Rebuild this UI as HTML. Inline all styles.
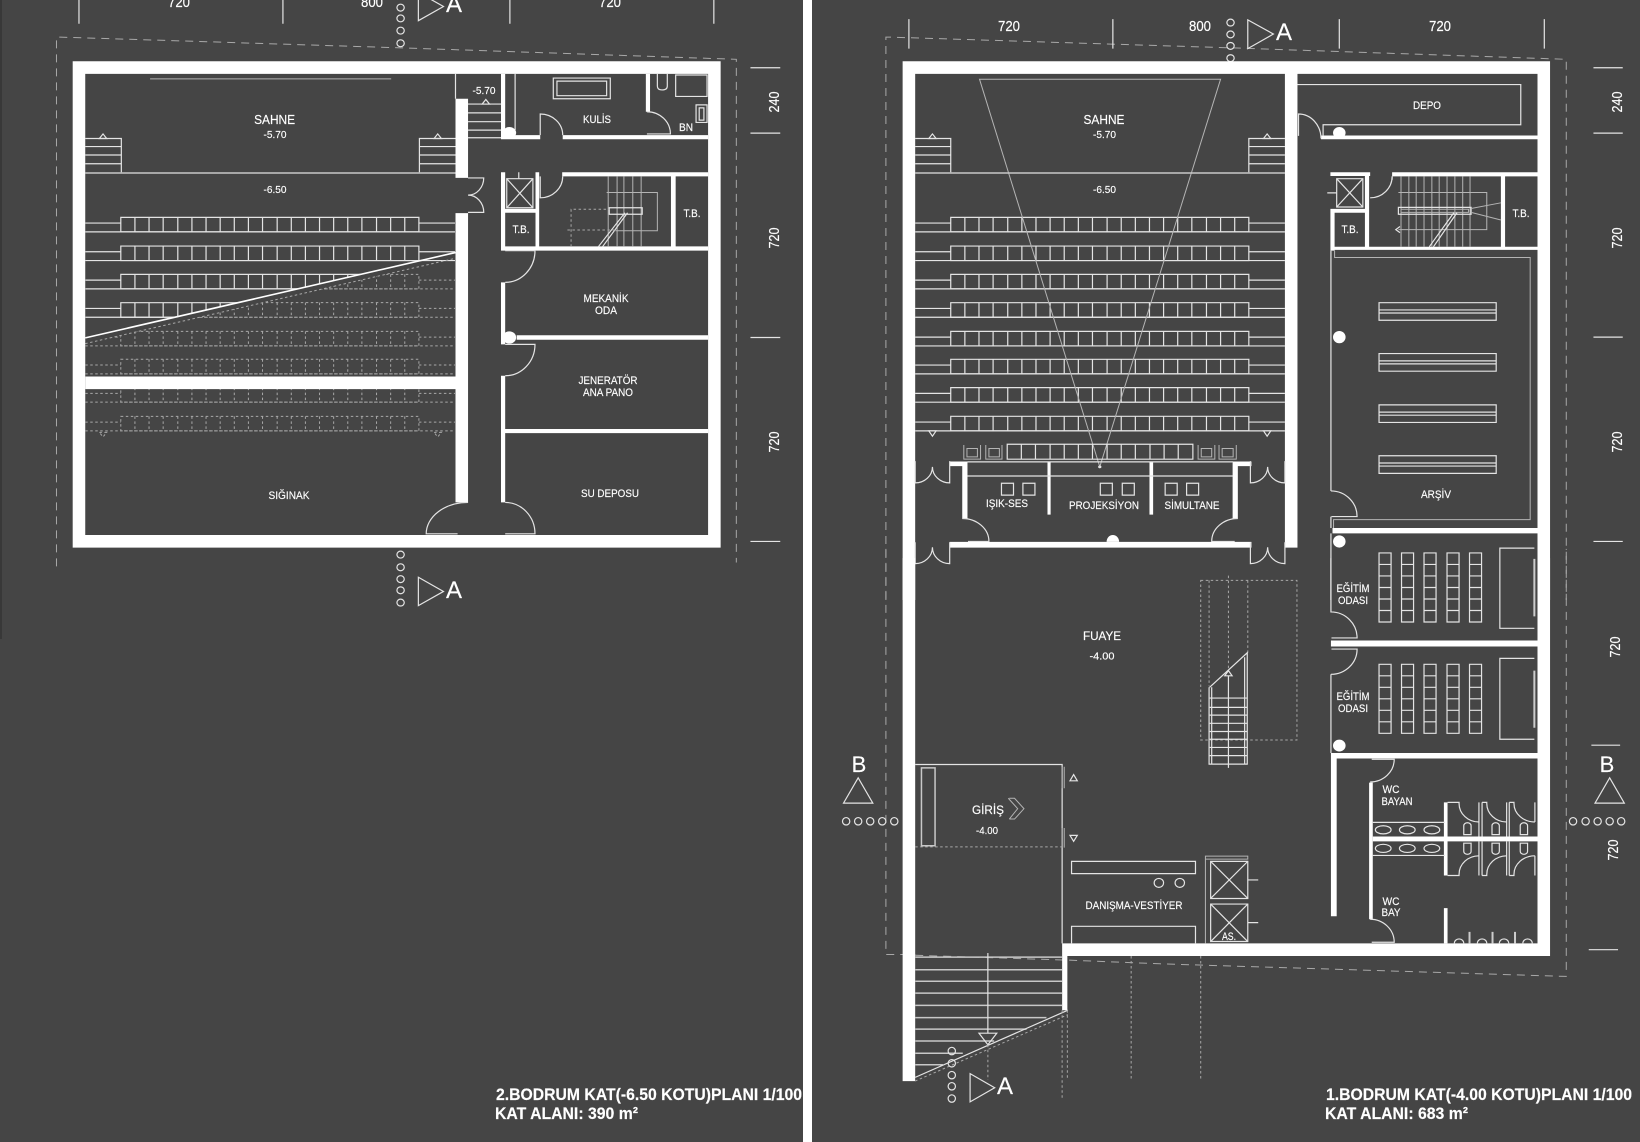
<!DOCTYPE html>
<html lang="tr">
<head>
<meta charset="utf-8">
<title>Bodrum Kat Planları</title>
<style>
html,body{margin:0;padding:0;background:#454545;width:1640px;height:1142px;overflow:hidden}
svg{display:block;position:absolute;left:0;top:0}
svg *{vector-effect:non-scaling-stroke}
.w{fill:#fff;stroke:none}
.l{fill:none;stroke:#e4e4e4;stroke-width:1.2}
.g{fill:none;stroke:#b4b4b4;stroke-width:1}
.r{fill:none;stroke:#c8c8c8;stroke-width:1.5}
.d{fill:none;stroke:#a8a8a8;stroke-width:1;stroke-dasharray:8 6}
.dt{fill:none;stroke:#a8a8a8;stroke-width:1;stroke-dasharray:2.5 2.5}
text{font-family:"Liberation Sans",sans-serif;fill:#fff;text-anchor:middle;stroke:#fff;stroke-width:.15}
.t{font-size:11px}
.s{font-size:10.5px}
.n{font-size:14.5px}
.b{font-size:16.5px;font-weight:bold;text-anchor:start}
.a{font-size:24px}
</style>
</head>
<body>
<svg width="1640" height="1142" viewBox="0 0 1640 1142" xmlns="http://www.w3.org/2000/svg">
<defs>
<g id="row">
<rect class="l" x="250" y="0" width="570" height="38"/>
<path class="l" d="M277,0V38M304,0V38M331,0V38M359,0V38M386,0V38M413,0V38M440,0V38M467,0V38M494,0V38M521,0V38M549,0V38M576,0V38M603,0V38M630,0V38M657,0V38M684,0V38M711,0V38M739,0V38M766,0V38M793,0V38"/>
<path class="l" d="M182,15H250M820,15H889M182,38H889"/>
</g>
<g id="rowd">
<rect class="dt" x="250" y="0" width="570" height="38"/>
<path class="dt" d="M277,0V38M304,0V38M331,0V38M359,0V38M386,0V38M413,0V38M440,0V38M467,0V38M494,0V38M521,0V38M549,0V38M576,0V38M603,0V38M630,0V38M657,0V38M684,0V38M711,0V38M739,0V38M766,0V38M793,0V38"/>
<path class="dt" d="M182,15H250M820,15H889M182,38H889"/>
</g>
<clipPath id="above"><polygon points="163,193 871,193 871,660 163,883"/></clipPath>
<clipPath id="below"><polygon points="163,898 871,675 871,1398 163,1398"/></clipPath>
<g id="desk">
<rect class="l" x="0" y="0" width="23" height="186"/>
<path class="l" d="M0,31H23M0,62H23M0,93H23M0,124H23M0,155H23"/>
</g>
<g id="deskrow">
<use href="#desk" x="1069"/><use href="#desk" x="1112"/><use href="#desk" x="1155"/><use href="#desk" x="1199"/><use href="#desk" x="1242"/>
</g>
<g id="shelf">
<rect class="l" x="1069" y="0" width="224" height="46"/>
<path class="l" d="M1069,19H1293M1069,27H1293"/>
</g>
</defs>

<rect width="1640" height="1142" fill="#454545"/>
<rect x="803" y="0" width="9" height="1142" fill="#fff"/>
<path d="M1,0V639" stroke="#2a2a2a" stroke-width="1" fill="none"/>

<!-- LEFT PLAN -->
<g transform="scale(.52296,.38265)">
<path class="d" d="M108,1480V97H115L766,125L1408,155V1470"/>
<path class="l" d="M151,0V62M541,0V62M975,0V62M1365,0V62"/>
<path class="l" d="M1435,177H1492M1435,348H1492M1435,882H1492M1435,1415H1492"/>
<ellipse class="l" cx="766" cy="20" rx="7" ry="9"/><ellipse class="l" cx="766" cy="48" rx="7" ry="9"/><ellipse class="l" cx="766" cy="80" rx="7" ry="9"/><ellipse class="l" cx="766" cy="113" rx="7" ry="9"/>
<polygon class="l" points="800,-20 848,17 800,54"/>

<!-- seats -->
<g transform="translate(-19,568)"><use href="#row"/></g>
<g transform="translate(-19,643)"><use href="#row"/></g>
<g clip-path="url(#above)">
<g transform="translate(-19,717)"><use href="#row"/></g>
<g transform="translate(-19,791)"><use href="#row"/></g>
</g>
<g clip-path="url(#below)">
<g transform="translate(-19,717)"><use href="#rowd"/></g>
<g transform="translate(-19,791)"><use href="#rowd"/></g>
<g transform="translate(-19,866)"><use href="#rowd"/></g>
<g transform="translate(-19,939)"><use href="#rowd"/></g>
<g transform="translate(-19,1013)"><use href="#rowd"/></g>
<g transform="translate(-19,1088)"><use href="#rowd"/></g>
</g>
<path d="M163,883L871,660" stroke="#fff" stroke-width="1.6" fill="none"/>
<path class="dt" d="M163,898L871,675"/>
<polygon class="dt" points="190,1130 204,1130 197,1142"/><polygon class="dt" points="830,1130 844,1130 837,1142"/>

<!-- stage -->
<path class="g" d="M287,206H748"/>
<path class="r" d="M163,452H871"/>
<path class="l" d="M163,362H232V450M163,383H232M163,405H232M163,428H232M802,450V362H871M802,383H871M802,405H871M802,428H871"/>
<polygon class="l" points="190,362 204,362 197,350"/><polygon class="l" points="830,362 844,362 837,350"/>
<path class="l" d="M871,193V258M895,272H958M895,295H958M895,318H958M895,340H958M895,360H958M985,193V340"/>
<polygon class="l" points="922,272 936,272 929,260"/>

<path class="w" fill-rule="evenodd" d="M139,160H1378V1431H139ZM163,193V1398H1354V193Z"/>
<path class="w" d="M163,984H871V1017H163ZM871,258H895V465H871ZM871,557H895V1313H871ZM958,193H966V360H958ZM958,353H1033V364H958ZM1076,353H1354V364H1076ZM1235,193H1243V292H1235ZM958,450H966V655H958ZM1075,450H1354V461H1075ZM1024,450H1031V650H1024ZM966,546H1024V556H966ZM958,644H1354V655H958ZM1283,461H1292V650H1283ZM958,738H966V900H958ZM988,876H1354V888H988ZM958,982H966V1313H958ZM966,1121H1354V1132H966Z"/>
<ellipse class="w" cx="974" cy="347" rx="13" ry="15"/>
<ellipse class="w" cx="974" cy="882" rx="13" ry="16"/>

<!-- doors -->
<path class="l" d="M1033,353V298A43,55 0 0 1 1076,353"/>
<path class="l" d="M1237,292A45,58 0 0 1 1282,350H1237"/>
<path class="l" d="M895,465H925A30,45 0 0 1 895,510A30,45 0 0 1 925,555H895"/>
<path class="l" d="M1033,461V517A43,56 0 0 0 1076,461"/>
<path class="l" d="M966,655H1023A57,83 0 0 1 966,738"/>
<path class="l" d="M966,900H1023A57,82 0 0 1 966,982"/>
<path class="l" d="M895,1313A80,82 0 0 0 815,1395H875"/>
<path class="l" d="M966,1313A57,82 0 0 1 1023,1395H966"/>

<!-- fixtures -->
<rect class="l" x="1058" y="204" width="109" height="54"/><rect class="l" x="1065" y="212" width="95" height="38"/>
<rect class="l" x="1292" y="196" width="60" height="56"/>
<path class="l" d="M1257,193V225Q1257,235 1266,235Q1276,235 1276,225V193"/>
<rect class="l" x="1331" y="274" width="21" height="46"/><rect class="l" x="1337" y="282" width="9" height="32"/>
<!-- lift -->
<rect class="l" x="969" y="467" width="50" height="76"/>
<path class="l" d="M969,467L1019,543M1019,467L969,543M992,450V467"/>
<!-- stairs -->
<path class="g" d="M1163,461V645M1180,461V645M1193,461V645M1210,461V645M1226,461V645"/>
<path class="g" d="M1160,503H1257V603H1177"/>
<rect class="l" x="1165" y="543" width="63" height="17"/>
<path class="l" d="M1144,645L1195,556M1152,645L1200,556"/>
<path class="dt" d="M1092,645V547H1165M1085,601H1177"/>
</g>

<!-- bottom A section, left -->
<g transform="translate(0,540) scale(.52296,.38393)">
<ellipse class="l" cx="766" cy="38" rx="7" ry="9"/><ellipse class="l" cx="766" cy="71" rx="7" ry="9"/><ellipse class="l" cx="766" cy="102" rx="7" ry="9"/><ellipse class="l" cx="766" cy="131" rx="7" ry="9"/><ellipse class="l" cx="766" cy="163" rx="7" ry="9"/>
<polygon class="l" points="800,97 848,134 800,171"/>
</g>

<!-- RIGHT PLAN TOP -->
<g transform="translate(820,0) scale(.52296,.38265)">
<path class="d" d="M126,1568V97H133L785,125L1427,155V1568"/>
<path class="l" d="M170,50V127M560,50V127M993,50V127M1385,50V127"/>
<path class="l" d="M1479,177H1535M1479,348H1535M1479,881H1535M1479,1415H1535"/>
<ellipse class="l" cx="785" cy="59" rx="7" ry="9"/><ellipse class="l" cx="785" cy="90" rx="7" ry="9"/><ellipse class="l" cx="785" cy="120" rx="7" ry="9"/><ellipse class="l" cx="785" cy="152" rx="7" ry="9"/>
<polygon class="l" points="818,52 867,89 818,127"/>

<!-- seats -->
<g transform="translate(0,568)"><use href="#row"/></g>
<g transform="translate(0,643)"><use href="#row"/></g>
<g transform="translate(0,717)"><use href="#row"/></g>
<g transform="translate(0,791)"><use href="#row"/></g>
<g transform="translate(0,866)"><use href="#row"/></g>
<g transform="translate(0,939)"><use href="#row"/></g>
<g transform="translate(0,1013)"><use href="#row"/></g>
<g transform="translate(0,1088)"><use href="#row"/></g>
<polygon class="l" points="208,1126 222,1126 215,1140"/><polygon class="l" points="848,1126 862,1126 855,1140"/>

<!-- stage -->
<path class="g" d="M305,207H766L535,1220Z"/>
<path class="r" d="M182,452H889"/>
<path class="l" d="M182,362H250V450M182,383H250M182,405H250M182,428H250M820,450V362H889M820,383H889M820,405H889M820,428H889"/>
<polygon class="l" points="208,362 222,362 215,350"/><polygon class="l" points="848,362 862,362 855,350"/>

<!-- back row -->
<rect class="l" x="358" y="1161" width="355" height="39"/>
<path class="l" d="M385,1161V1200M412,1161V1200M440,1161V1200M467,1161V1200M494,1161V1200M521,1161V1200M549,1161V1200M576,1161V1200M603,1161V1200M631,1161V1200M658,1161V1200M685,1161V1200"/>
<path class="g" stroke-width="1.4" d="M275,1163V1200H307V1163M281,1172H301V1194H281ZM317,1163V1200H348V1163M323,1172H343V1194H323ZM723,1163V1200H755V1163M729,1172H749V1194H729ZM763,1163V1200H796V1163M769,1172H790V1194H769Z"/>
<circle class="l" cx="535" cy="1220" r="2"/>

<!-- outer and main walls -->
<path class="w" d="M158,160H1396V193H158ZM158,160H182V1568H158ZM1372,160H1396V1568H1372ZM889,193H913V1431H889Z"/>
<path class="w" d="M958,354H1372V364H958ZM976,450H1052V460H976ZM1094,450H1372V461H1094ZM976,546H1045V556H976ZM976,546H984V655H976ZM1042,455H1050V645H1042ZM976,645H1372V653H976ZM1302,461H1310V645H1302ZM980,1380H1372V1394H980Z"/>
<path class="l" d="M977,655V1283"/>
<path class="l" d="M977,1350V1380M977,1394V1568"/>
<!-- projection rooms -->
<path class="w" d="M248,1206H282V1218H248ZM790,1206H825V1218H790ZM272,1206H282V1355H272ZM789,1206H799V1355H789ZM435,1207H441V1345H435ZM630,1207H637V1345H630ZM248,1416H825V1431H248Z"/>
<path class="l" d="M282,1207H790"/>
<path class="l" d="M282,1244H790"/>
<rect class="l" x="347" y="1263" width="23" height="31"/><rect class="l" x="388" y="1263" width="23" height="31"/>
<rect class="l" x="536" y="1263" width="23" height="31"/><rect class="l" x="578" y="1263" width="23" height="31"/>
<rect class="l" x="660" y="1263" width="23" height="31"/><rect class="l" x="701" y="1263" width="23" height="31"/>
<path class="w" d="M548,1416A12,18 0 0 1 572,1416Z"/>
<path class="l" d="M272,1355A51,60 0 0 1 323,1415H283"/>
<path class="l" d="M799,1355A50,60 0 0 0 749,1415H793"/>
<!-- foyer double doors -->
<path class="l" d="M182,1205V1262A33,42 0 0 0 215,1220A33,42 0 0 0 248,1262V1205"/>
<path class="l" d="M823,1205V1262A33,42 0 0 0 856,1220A33,42 0 0 0 889,1262V1205"/>
<path class="l" d="M182,1417V1473A33,43 0 0 0 215,1430A33,43 0 0 0 248,1473V1417"/>
<path class="l" d="M823,1417V1473A33,43 0 0 0 856,1430A33,43 0 0 0 889,1473V1417"/>
<!-- depo -->
<path class="l" d="M913,221H1340V326H962V355"/>
<path class="l" d="M915,355V298A43,64 0 0 1 958,362"/>
<ellipse class="w" cx="993" cy="347" rx="12" ry="15"/>
<ellipse class="w" cx="993" cy="881" rx="12" ry="16"/>
<ellipse class="w" cx="993" cy="1415" rx="12" ry="16"/>
<!-- core -->
<rect class="l" x="988" y="467" width="50" height="74"/>
<path class="l" d="M988,467L1038,541M1038,467L988,541M970,504H988"/>
<path class="l" d="M1094,461V470"/><path class="l" d="M1052,517A42,56 0 0 0 1094,461"/>
<path class="g" d="M1111,461V645M1126,461V645M1140,461V645M1155,461V645M1170,461V645M1184,461V645M1199,461V645M1214,461V645M1229,461V645M1243,461V645"/>
<path class="g" d="M1106,503H1275V600H1106"/>
<rect class="l" x="1106" y="542" width="139" height="18"/><rect class="g" x="1111" y="547" width="129" height="8"/>
<path class="l" d="M1165,645L1212,556M1173,645L1218,556"/>
<path class="g" d="M1245,545L1302,530M1245,555L1302,575"/>
<path class="l" d="M1109,592L1101,600L1109,608"/>
<!-- archive -->
<path class="g" d="M984,655V673H1358V1358H982V1380"/>
<g transform="translate(0,791)"><use href="#shelf"/></g>
<g transform="translate(0,924)"><use href="#shelf"/></g>
<g transform="translate(0,1058)"><use href="#shelf"/></g>
<g transform="translate(0,1191)"><use href="#shelf"/></g>
<path class="l" d="M977,1283A50,67 0 0 1 1027,1350H978"/>
</g>

<!-- RIGHT PLAN BOTTOM -->
<g transform="translate(820,560) scale(.52296,.37114)">
<path class="d" d="M126,-30V1063H182M182,1065L473,1078L650,1088L1427,1122V-30"/>
<path class="w" d="M158,-5H182V1404H158ZM1372,-5H1396V1067H1372ZM463,1033H1396V1067H463ZM463,1067H473V1213H463Z"/>
<path class="l" d="M1475,499H1530M1470,1050H1526"/>
<!-- B sections -->
<polygon class="l" points="73,587 45,655 101,655"/>
<polygon class="l" points="1510,587 1482,655 1538,655"/>
<ellipse class="l" cx="50" cy="704" rx="7" ry="10"/><ellipse class="l" cx="73" cy="704" rx="7" ry="10"/><ellipse class="l" cx="96" cy="704" rx="7" ry="10"/><ellipse class="l" cx="119" cy="704" rx="7" ry="10"/><ellipse class="l" cx="142" cy="704" rx="7" ry="10"/>
<ellipse class="l" cx="1440" cy="704" rx="7" ry="10"/><ellipse class="l" cx="1464" cy="704" rx="7" ry="10"/><ellipse class="l" cx="1487" cy="704" rx="7" ry="10"/><ellipse class="l" cx="1510" cy="704" rx="7" ry="10"/><ellipse class="l" cx="1532" cy="704" rx="7" ry="10"/>
<!-- training rooms -->
<g transform="translate(0,-19)"><use href="#deskrow"/></g>
<g transform="translate(0,281)"><use href="#deskrow"/></g>
<path class="l" d="M1366,-32H1300V184H1366"/><path class="l" d="M1366,265H1300V483H1366"/>
<path d="M1366,-3V152M1366,298V452" fill="none" stroke="#ccc" stroke-width="2"/>
<path class="l" d="M977,-5V140A50,70 0 0 1 1027,210H978"/>
<path class="l" d="M977,308A50,68 0 0 0 1027,240H978"/>
<path class="l" d="M977,308V520"/>
<path class="w" d="M977,217H1372V233H977ZM977,520H1372V535H977ZM977,535H988V960H977ZM1050,600H1057V968H1050Z"/>
<ellipse class="w" cx="993" cy="500" rx="12" ry="16"/>
<!-- WC -->
<path class="l" d="M1052,598A46,61 0 0 0 1098,537H1055"/>
<path class="l" d="M1052,968A46,62 0 0 1 1098,1030H1055"/>
<path class="w" d="M1057,745H1372V758H1057ZM1193,653H1200V850H1193ZM1193,938H1200V1033H1193Z"/>
<path class="l" d="M1057,707H1195M1057,796H1195"/>
<ellipse class="l" cx="1077" cy="727" rx="15" ry="11"/><ellipse class="l" cx="1123" cy="727" rx="15" ry="11"/><ellipse class="l" cx="1170" cy="727" rx="15" ry="11"/>
<ellipse class="l" cx="1077" cy="777" rx="15" ry="11"/><ellipse class="l" cx="1123" cy="777" rx="15" ry="11"/><ellipse class="l" cx="1170" cy="777" rx="15" ry="11"/>
<path class="l" d="M1200,653H1222V656A38,50 0 0 0 1260,706M1266,653H1275V656A38,50 0 0 0 1313,706M1318,653H1327V656A40,50 0 0 0 1367,706"/>
<path class="l" d="M1260,653V745M1266,653V745M1313,653V745M1318,653V745M1367,653V706"/>
<path class="l" d="M1200,850H1222V847A38,50 0 0 1 1260,797M1266,850H1275V847A38,50 0 0 1 1313,797M1318,850H1327V847A40,50 0 0 1 1367,797"/>
<path class="l" d="M1260,758V850M1266,758V850M1313,758V850M1318,758V850M1367,797V850"/>
<path class="l" d="M1231,740V716A7,8 0 0 1 1245,716V740ZM1285,740V716A7,8 0 0 1 1299,716V740ZM1339,740V716A7,8 0 0 1 1353,716V740Z"/>
<path class="l" d="M1231,763V785A7,8 0 0 0 1245,785V763ZM1285,763V785A7,8 0 0 0 1299,785V763ZM1339,763V785A7,8 0 0 0 1353,785V763Z"/>
<path d="M1242,1002V1033M1286,1002V1033M1329,1002V1033" fill="none" stroke="#ccc" stroke-width="2"/>
<path class="l" d="M1213,1033A9,12 0 0 1 1231,1033M1257,1033A9,12 0 0 1 1275,1033M1299,1033A9,12 0 0 1 1317,1033M1344,1033A9,12 0 0 1 1362,1033"/>
<!-- entrance -->
<path class="l" d="M182,551H463V1033"/>
<path class="dt" d="M182,773H463"/>
<rect class="r" x="194" y="560" width="26" height="210"/>
<path class="g" d="M463,557V615M467,557V615M463,722V775M467,722V775"/>
<polygon class="l" points="478,595 492,595 485,578"/><polygon class="l" points="478,742 492,742 485,758"/>
<path class="g" d="M360,642L378,670L362,698M362,642H372L390,670L372,698H362"/>
<!-- info desk -->
<rect class="l" x="481" y="812" width="237" height="33"/>
<ellipse class="l" cx="648" cy="870" rx="9" ry="12"/><ellipse class="l" cx="688" cy="870" rx="9" ry="12"/>
<path class="l" d="M481,1033V987H718V1033"/>
<path class="g" d="M737,1033V798H818V806H737"/>
<rect class="l" x="747" y="812" width="71" height="100"/><path class="l" d="M747,812L818,912M818,812L747,912M818,862H838"/>
<rect class="l" x="747" y="927" width="71" height="101"/><path class="l" d="M747,927L818,1028M818,927L747,1028M818,977H838"/>
<!-- foyer stair -->
<path class="dt" d="M728,55H912V485H728ZM744,55V340M818,55V250M781,42V300"/>
<path class="l" d="M745,343L817,250V550H744V343M749,343V550M812,262V550M781,312V560"/>
<path class="l" d="M745,372H817M745,397H817M745,418H817M745,440H817M745,462H817M745,483H817M745,505H817M745,527H817"/>
<polygon class="l" points="774,312 788,312 781,298"/>
<!-- ramp stair -->
<path class="r" d="M182,1070H463M182,1104H463M182,1135H463M182,1167H463M182,1200H463M182,1233H433M182,1264H395M182,1296H333M182,1329H273M182,1360H235"/>
<path class="l" stroke-width="1.5" d="M182,1394L474,1213"/>
<path class="dt" d="M182,1404L474,1225"/>
<path class="l" d="M321,1059V1275"/>
<polygon class="l" points="304,1275 338,1275 321,1306"/>
<path class="dt" d="M321,1306V1401M463,1213V1450M473,1213V1401M595,1067V1403M728,1067V1403"/>
<!-- A bottom -->
<ellipse class="l" cx="252" cy="1323" rx="7" ry="10"/><ellipse class="l" cx="252" cy="1356" rx="7" ry="10"/><ellipse class="l" cx="252" cy="1388" rx="7" ry="10"/><ellipse class="l" cx="252" cy="1418" rx="7" ry="10"/><ellipse class="l" cx="252" cy="1451" rx="7" ry="10"/>
<polygon class="l" points="287,1384 334,1422 287,1460"/>
</g>

<!-- TEXT: left plan -->
<text class="n" x="179" y="7" textLength="22" lengthAdjust="spacingAndGlyphs">720</text>
<text class="n" x="372" y="7" textLength="22" lengthAdjust="spacingAndGlyphs">800</text>
<text class="n" x="610" y="7" textLength="22" lengthAdjust="spacingAndGlyphs">720</text>
<text class="a" x="454" y="12">A</text>
<text class="a" x="454" y="598">A</text>
<text style="font-size:13px" x="274.6" y="124" textLength="41" lengthAdjust="spacingAndGlyphs">SAHNE</text>
<text class="s" x="275" y="138" textLength="23" lengthAdjust="spacingAndGlyphs">-5.70</text>
<text class="s" x="484" y="94" textLength="23" lengthAdjust="spacingAndGlyphs">-5.70</text>
<text class="s" x="275" y="193" textLength="23" lengthAdjust="spacingAndGlyphs">-6.50</text>
<text class="t" x="597" y="123" textLength="28" lengthAdjust="spacingAndGlyphs">KULİS</text>
<text class="t" x="686" y="131" textLength="14" lengthAdjust="spacingAndGlyphs">BN</text>
<text class="t" x="521" y="233" textLength="17" lengthAdjust="spacingAndGlyphs">T.B.</text>
<text class="t" x="692" y="217" textLength="17" lengthAdjust="spacingAndGlyphs">T.B.</text>
<text class="t" x="606" y="302" textLength="45" lengthAdjust="spacingAndGlyphs">MEKANİK</text>
<text class="t" x="606" y="314" textLength="22" lengthAdjust="spacingAndGlyphs">ODA</text>
<text class="t" x="608" y="384" textLength="59" lengthAdjust="spacingAndGlyphs">JENERATÖR</text>
<text class="t" x="608" y="396" textLength="50" lengthAdjust="spacingAndGlyphs">ANA PANO</text>
<text class="t" x="289" y="499" textLength="41" lengthAdjust="spacingAndGlyphs">SIĞINAK</text>
<text class="t" x="610" y="497" textLength="58" lengthAdjust="spacingAndGlyphs">SU DEPOSU</text>
<text class="n" transform="translate(779,102) rotate(-90)" textLength="21" lengthAdjust="spacingAndGlyphs">240</text>
<text class="n" transform="translate(779,238) rotate(-90)" textLength="21" lengthAdjust="spacingAndGlyphs">720</text>
<text class="n" transform="translate(779,442) rotate(-90)" textLength="21" lengthAdjust="spacingAndGlyphs">720</text>
<text class="b" x="496" y="1100" textLength="306" lengthAdjust="spacingAndGlyphs">2.BODRUM KAT(-6.50 KOTU)PLANI 1/100</text>
<text class="b" x="495" y="1119" textLength="143" lengthAdjust="spacingAndGlyphs">KAT ALANI: 390 m²</text>

<!-- TEXT: right plan -->
<text class="n" x="1009" y="31" textLength="22" lengthAdjust="spacingAndGlyphs">720</text>
<text class="n" x="1200" y="31" textLength="22" lengthAdjust="spacingAndGlyphs">800</text>
<text class="n" x="1440" y="31" textLength="22" lengthAdjust="spacingAndGlyphs">720</text>
<text class="a" x="1284" y="40">A</text>
<text style="font-size:13px" x="1104" y="124" textLength="41" lengthAdjust="spacingAndGlyphs">SAHNE</text>
<text class="s" x="1104.5" y="138" textLength="23" lengthAdjust="spacingAndGlyphs">-5.70</text>
<text class="s" x="1104.5" y="193" textLength="23" lengthAdjust="spacingAndGlyphs">-6.50</text>
<text class="t" x="1427" y="109" textLength="28" lengthAdjust="spacingAndGlyphs">DEPO</text>
<text class="t" x="1350" y="233" textLength="17" lengthAdjust="spacingAndGlyphs">T.B.</text>
<text class="t" x="1521" y="217" textLength="17" lengthAdjust="spacingAndGlyphs">T.B.</text>
<text class="t" x="1436" y="498" textLength="30" lengthAdjust="spacingAndGlyphs">ARŞİV</text>
<text class="t" x="1007" y="507" textLength="42" lengthAdjust="spacingAndGlyphs">IŞIK-SES</text>
<text class="t" x="1104" y="509" textLength="70" lengthAdjust="spacingAndGlyphs">PROJEKSİYON</text>
<text class="t" x="1192" y="509" textLength="55" lengthAdjust="spacingAndGlyphs">SİMULTANE</text>
<text class="t" x="1353" y="592" textLength="33" lengthAdjust="spacingAndGlyphs">EĞİTİM</text>
<text class="t" x="1353" y="604" textLength="30" lengthAdjust="spacingAndGlyphs">ODASI</text>
<text class="t" x="1353" y="700" textLength="33" lengthAdjust="spacingAndGlyphs">EĞİTİM</text>
<text class="t" x="1353" y="712" textLength="30" lengthAdjust="spacingAndGlyphs">ODASI</text>
<text style="font-size:12px" x="1102" y="640" textLength="38" lengthAdjust="spacingAndGlyphs">FUAYE</text>
<text class="s" x="1102" y="659.5" textLength="25" lengthAdjust="spacingAndGlyphs">-4.00</text>
<text style="font-size:12px" x="988" y="814" textLength="32" lengthAdjust="spacingAndGlyphs">GİRİŞ</text>
<text class="s" x="987" y="834" textLength="22" lengthAdjust="spacingAndGlyphs">-4.00</text>
<text class="t" x="1134" y="909" textLength="97" lengthAdjust="spacingAndGlyphs">DANIŞMA-VESTİYER</text>
<text class="t" x="1229" y="940" textLength="14" lengthAdjust="spacingAndGlyphs">AS.</text>
<text class="t" x="1391" y="793" textLength="17" lengthAdjust="spacingAndGlyphs">WC</text>
<text class="t" x="1397" y="805" textLength="31" lengthAdjust="spacingAndGlyphs">BAYAN</text>
<text class="t" x="1391" y="905" textLength="17" lengthAdjust="spacingAndGlyphs">WC</text>
<text class="t" x="1391" y="916" textLength="19" lengthAdjust="spacingAndGlyphs">BAY</text>
<text class="n" transform="translate(1622,102) rotate(-90)" textLength="21" lengthAdjust="spacingAndGlyphs">240</text>
<text class="n" transform="translate(1622,238) rotate(-90)" textLength="21" lengthAdjust="spacingAndGlyphs">720</text>
<text class="n" transform="translate(1622,442) rotate(-90)" textLength="21" lengthAdjust="spacingAndGlyphs">720</text>
<text class="n" transform="translate(1620,647) rotate(-90)" textLength="21" lengthAdjust="spacingAndGlyphs">720</text>
<text class="n" transform="translate(1618,850) rotate(-90)" textLength="21" lengthAdjust="spacingAndGlyphs">720</text>
<text style="font-size:22px" x="859" y="772">B</text>
<text style="font-size:22px" x="1607" y="772">B</text>
<text class="a" x="1005" y="1094">A</text>
<text class="b" x="1326" y="1100" textLength="306" lengthAdjust="spacingAndGlyphs">1.BODRUM KAT(-4.00 KOTU)PLANI 1/100</text>
<text class="b" x="1325" y="1119" textLength="143" lengthAdjust="spacingAndGlyphs">KAT ALANI: 683 m²</text>
</svg>
</body>
</html>
